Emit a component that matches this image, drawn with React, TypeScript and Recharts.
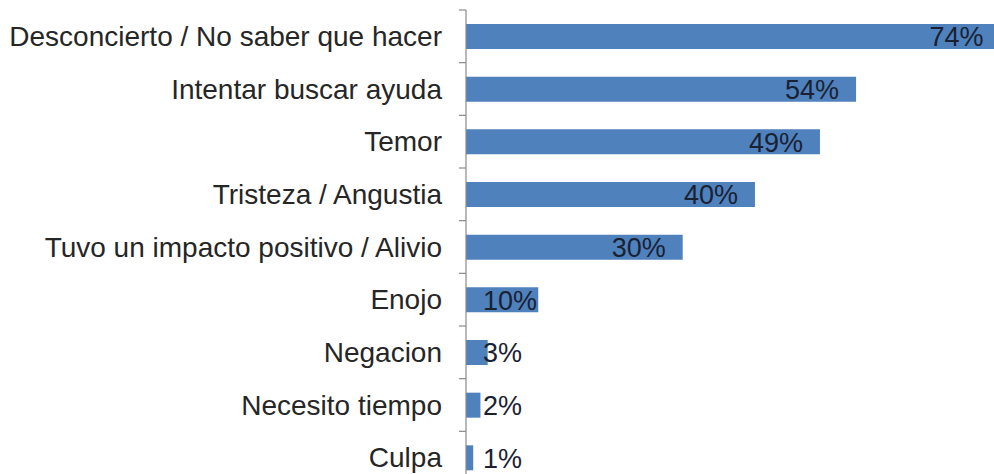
import React from "react";
import { BarChart, Bar, XAxis, YAxis, LabelList } from "recharts";

const categories = [
  "Desconcierto / No saber que hacer",
  "Intentar buscar ayuda",
  "Temor",
  "Tristeza / Angustia",
  "Tuvo un impacto positivo / Alivio",
  "Enojo",
  "Negacion",
  "Necesito tiempo",
  "Culpa",
];
const values = [74, 54, 49, 40, 30, 10, 3, 2, 1];
const valueLabels = ["74%", "54%", "49%", "40%", "30%", "10%", "3%", "2%", "1%"];

const data = categories.map((name, i) => ({ name, value: values[i], label: valueLabels[i] }));

const CHART_W = 1015;
const CHART_H = 484;
const M_TOP = 10;
const M_BOTTOM = 0;
const BAND = (CHART_H - M_TOP - M_BOTTOM) / categories.length;
const FONT = "'Liberation Sans', Arial, sans-serif";
const CAT_FS = 28;
const VAL_FS = 27;
const TICK_SIZE = 7;
const TICK_MARGIN = 17;

const CatTick = (props: any) => {
  const { x, y, payload, index } = props;
  const axisX = x + TICK_MARGIN + TICK_SIZE;
  return (
    <g>
      <text
        x={x}
        y={y}
        dy={CAT_FS * 0.35}
        textAnchor="end"
        fontFamily={FONT}
        fontSize={CAT_FS}
        fill="#262626"
      >
        {payload.value}
      </text>
      <line x1={axisX - TICK_SIZE} x2={axisX} y1={y - BAND / 2} y2={y - BAND / 2} stroke="#8a8a8a" strokeWidth={1.2} />
      {index === categories.length - 1 && (
        <line x1={axisX - TICK_SIZE} x2={axisX} y1={y + BAND / 2} y2={y + BAND / 2} stroke="#8a8a8a" strokeWidth={1.2} />
      )}
    </g>
  );
};

const ValueLabel = (props: any) => {
  const { x, y, width, height, value } = props;
  const s = String(value);
  const w = ((s.length - 1) * 0.556 + 0.889) * VAL_FS;
  const right = x + width;
  const left = Math.max(x + 17, right - 17 - w);
  return (
    <text
      x={left}
      y={y + height / 2 + VAL_FS * 0.36}
      textAnchor="start"
      fontFamily={FONT}
      fontSize={VAL_FS}
      fill="#1a2133"
    >
      {s}
    </text>
  );
};

export default function App() {
  return (
    <div
      style={{
        position: "fixed",
        left: 0,
        top: 0,
        width: 994,
        height: 474,
        overflow: "hidden",
        background: "#ffffff",
      }}
    >
      <BarChart
        width={CHART_W}
        height={CHART_H}
        data={data}
        layout="vertical"
        margin={{ top: M_TOP, right: 0, bottom: M_BOTTOM, left: 0 }}
        barCategoryGap={0}
      >
        <XAxis type="number" domain={[0, 76]} hide />
        <YAxis
          type="category"
          dataKey="name"
          width={466}
          interval={0}
          tickSize={TICK_SIZE}
          tickMargin={TICK_MARGIN}
          tickLine={false}
          axisLine={{ stroke: "#8a8a8a", strokeWidth: 1.2 }}
          tick={<CatTick />}
        />
        <Bar dataKey="value" fill="#4f81bd" barSize={25} isAnimationActive={false}>
          <LabelList dataKey="label" content={<ValueLabel />} />
        </Bar>
      </BarChart>
    </div>
  );
}
